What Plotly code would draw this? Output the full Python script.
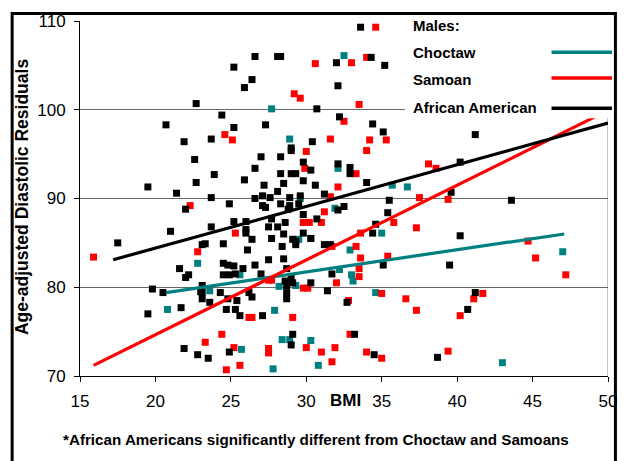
import plotly.graph_objects as go

# ---------------- data (BMI, age-adjusted diastolic residual) ----------------
aa_bmi = [33.6, 26.6, 28.1, 28.3, 25.2, 26.4, 25.9, 32.0, 34.3, 35.2, 32.1, 22.7, 30.7, 24.4, 32.2,
          20.7, 27.3, 34.4, 25.2, 35.1, 41.2, 21.9, 23.7, 30.4, 29.0, 29.0, 22.6, 27.0, 28.3, 29.8,
          32.1, 32.9, 26.6, 30.3, 40.2, 23.9, 28.3, 29.0, 29.3, 32.9, 22.7, 25.9, 29.8, 34.0, 19.5,
          27.2, 28.5, 30.6, 21.4, 28.1, 23.7, 26.6, 27.1, 27.6, 28.9, 29.6, 31.2, 35.5, 39.6, 43.6,
          24.9, 28.3, 28.9, 27.1, 27.3, 28.8, 22.0, 29.5, 29.8, 32.1, 32.5, 35.4, 25.2, 26.0, 27.7,
          28.6, 30.7, 34.6, 23.7, 21.0, 27.5, 28.1, 26.0, 26.0, 29.8, 28.5, 34.4, 40.2, 17.5, 23.1,
          23.3, 24.5, 26.4, 27.7, 29.1, 29.3, 30.3, 31.2, 31.6, 28.4, 26.1, 29.3, 24.5, 24.8, 25.2,
          25.3, 25.8, 26.6, 27.5, 28.5, 28.7, 21.6, 22.2, 22.0, 24.5, 24.9, 27.0, 31.7, 35.1, 39.5,
          28.6, 29.0, 29.1, 28.7, 30.3, 19.8, 20.5, 23.1, 23.0, 23.1, 24.3, 23.1, 23.6, 24.8, 25.4,
          26.2, 26.4, 28.7, 28.7, 31.4, 41.2, 32.7, 21.7, 19.5, 24.7, 25.3, 25.6, 27.1, 40.7, 29.1,
          29.0, 33.2, 21.9, 22.8, 23.5, 24.9, 34.5, 38.7]
aa_resid = [109.3, 106.0, 106.0, 106.0, 104.8, 103.4, 102.5, 105.3, 105.9, 105.0, 102.7, 100.7, 100.1, 99.4, 99.2,
            98.3, 98.3, 98.4, 98.0, 97.5, 97.2, 96.4, 96.7, 96.4, 95.7, 95.4, 94.4, 94.7, 94.7, 94.1,
            93.9, 93.5, 93.4, 93.2, 94.1, 92.7, 92.8, 92.8, 92.8, 92.8, 91.8, 92.1, 92.0, 91.8, 91.3,
            91.5, 91.7, 91.5, 90.6, 90.8, 90.1, 90.0, 90.3, 90.1, 90.1, 90.3, 90.5, 89.8, 90.7, 89.8,
            89.4, 89.4, 89.2, 89.2, 89.0, 88.8, 88.8, 89.4, 88.2, 88.7, 89.1, 88.4, 87.4, 87.4, 87.7,
            87.3, 87.7, 87.1, 86.8, 86.3, 86.8, 86.8, 86.5, 86.1, 86.1, 86.0, 86.1, 85.8, 85.0, 84.8,
            84.9, 84.9, 85.4, 85.5, 85.4, 84.8, 85.5, 84.8, 84.8, 84.6, 84.2, 85.2, 82.7, 82.5, 82.4,
            81.5, 82.1, 82.5, 83.1, 83.2, 82.1, 82.1, 81.4, 81.1, 81.4, 81.4, 81.5, 81.5, 82.5, 82.5,
            80.7, 81.0, 80.5, 80.2, 80.5, 79.8, 79.4, 80.2, 79.5, 79.4, 79.4, 78.7, 78.3, 78.7, 78.5,
            79.4, 78.9, 79.4, 78.7, 79.6, 79.4, 78.3, 77.7, 77.0, 77.5, 77.5, 76.8, 76.8, 77.5, 74.7,
            73.5, 74.7, 73.1, 72.4, 72.0, 72.7, 72.4, 72.1]

samoan_bmi = [34.6, 30.6, 33.0, 34.0, 29.2, 29.6, 33.5, 32.5, 24.6, 25.1, 31.6, 34.2, 35.3, 30.0, 34.0,
              29.9, 33.3, 32.1, 38.1, 38.6, 22.3, 31.6, 37.5, 39.4, 31.2, 29.8, 30.2, 31.0, 35.8, 37.3,
              25.3, 33.6, 31.7, 33.3, 15.9, 22.8, 33.6, 35.4, 44.7, 45.2, 47.2, 33.5, 33.5, 32.0, 27.5,
              27.7, 29.8, 30.1, 32.8, 35.0, 36.6, 37.3, 41.1, 41.7, 40.2, 26.2, 26.4, 29.1, 24.4, 23.3,
              25.2, 27.5, 27.5, 30.0, 31.0, 31.9, 32.9, 34.0, 35.0, 39.4, 25.6, 24.7, 31.7]
samoan_resid = [109.3, 105.2, 105.3, 105.9, 101.8, 101.3, 100.6, 98.7, 97.2, 96.6, 96.7, 96.6, 96.6, 95.3, 95.4,
                93.4, 92.8, 91.3, 93.9, 93.4, 89.2, 90.2, 90.1, 89.9, 88.5, 87.3, 87.3, 87.3, 87.3, 86.7,
                86.1, 86.1, 84.6, 84.6, 83.4, 84.0, 83.3, 83.5, 85.2, 83.3, 81.4, 82.1, 81.2, 80.5, 80.8,
                80.8, 79.9, 79.9, 78.5, 79.3, 78.7, 77.4, 78.7, 79.3, 76.8, 76.6, 76.6, 76.6, 74.7, 73.8,
                73.2, 73.1, 72.6, 73.2, 72.7, 73.2, 74.7, 72.7, 72.0, 72.8, 71.2, 70.7, 71.6]

choctaw_bmi = [32.5, 27.7, 28.9, 32.1, 29.6, 35.7, 36.7, 31.9, 35.0, 30.3, 29.5, 32.9, 22.8, 32.2, 33.0,
               33.1, 29.3, 28.2, 23.6, 20.8, 25.6, 27.9, 34.6, 28.4, 28.9, 30.3, 25.7, 27.8, 30.8, 43.0,
               47.0]
choctaw_resid = [106.1, 100.1, 96.7, 93.4, 90.0, 91.5, 91.3, 88.9, 86.1, 85.5, 85.4, 84.2, 82.7, 82.0, 81.4,
                 80.7, 80.2, 80.1, 79.6, 77.5, 81.4, 77.4, 79.4, 74.1, 74.1, 74.0, 73.0, 70.8, 71.2, 71.5,
                 84.0]

# fitted regression lines (end points)
choctaw_fit_bmi = [20.7, 47.1]
choctaw_fit_resid = [79.4, 86.0]
samoan_fit_bmi = [15.9, 49.5]
samoan_fit_resid = [71.2, 99.5]
aa_fit_bmi = [17.2, 50.0]
aa_fit_resid = [83.1, 98.5]

x_ticks = [15, 20, 25, 30, 35, 40, 45, 50]
y_ticks = [70, 80, 90, 100, 110]

legend_title = "Males:"
legend_names = ["Choctaw", "Samoan", "African American"]
legend_colors = ["#008080", "#FF0000", "#000000"]

TEAL, RED, BLACK = "#008080", "#FF0000", "#000000"
FONT = "Arial, 'Liberation Sans', sans-serif"

fig = go.Figure()

for xs, ys, col in [(choctaw_bmi, choctaw_resid, TEAL),
                    (samoan_bmi, samoan_resid, RED),
                    (aa_bmi, aa_resid, BLACK)]:
    fig.add_trace(go.Scatter(x=xs, y=ys, mode="markers",
                             marker=dict(symbol="square", size=7, color=col, line=dict(width=0)),
                             showlegend=False, hoverinfo="skip"))

for xs, ys, col in [(choctaw_fit_bmi, choctaw_fit_resid, TEAL),
                    (samoan_fit_bmi, samoan_fit_resid, RED),
                    (aa_fit_bmi, aa_fit_resid, BLACK)]:
    fig.add_trace(go.Scatter(x=xs, y=ys, mode="lines",
                             line=dict(color=col, width=3.2),
                             showlegend=False, hoverinfo="skip"))

W, H = 629, 461
ML, MR, MT, MB = 80, 16, 18, 85
PW, PH = W - ML - MR, H - MT - MB


def px(x):
    return (x - ML) / PW


def py(y):
    return (H - MB - y) / PH


shapes = []
# right plot border (gray)
shapes.append(dict(type="line", xref="x", yref="y", x0=50, x1=50, y0=70, y1=110,
                   line=dict(color="#888888", width=1), layer="below"))
# legend box (white, covers plot)
shapes.append(dict(type="rect", xref="paper", yref="paper",
                   x0=px(408), x1=px(619), y0=py(116), y1=py(11),
                   fillcolor="white", line=dict(width=0), layer="above"))
# outer frame
shapes.append(dict(type="rect", xref="paper", yref="paper",
                   x0=px(11.5), x1=px(620.5), y0=py(490), y1=py(10.5),
                   fillcolor="rgba(0,0,0,0)", line=dict(color="black", width=3), layer="above"))

annotations = []
legend_y = [49.5, 76.5, 105.5]
line_y = [49.5, 75.5, 106]
annotations.append(dict(text=legend_title, xref="paper", yref="paper", x=px(414), y=py(23),
                        xanchor="left", yanchor="middle", showarrow=False,
                        font=dict(family=FONT, size=15, color="black", weight="bold")))
for name, col, ty, ly in zip(legend_names, legend_colors, legend_y, line_y):
    annotations.append(dict(text=name, xref="paper", yref="paper", x=px(414), y=py(ty),
                            xanchor="left", yanchor="middle", showarrow=False,
                            font=dict(family=FONT, size=15, color="black", weight="bold")))
    shapes.append(dict(type="line", xref="paper", yref="paper", x0=px(556), x1=px(617),
                       y0=py(ly), y1=py(ly), line=dict(color=col, width=3.5), layer="above"))

annotations.append(dict(text="BMI", xref="x", yref="paper", x=32.6, y=py(401),
                        xanchor="center", yanchor="middle", showarrow=False,
                        font=dict(family=FONT, size=17, color="black", weight="bold")))
annotations.append(dict(text="Age-adjusted Diastolic Residuals", xref="paper", yref="paper",
                        x=px(21), y=py(196), textangle=-90, xanchor="center", yanchor="middle",
                        showarrow=False, font=dict(family=FONT, size=17.5, color="black", weight="bold")))
annotations.append(dict(text="*African Americans significantly different from Choctaw and Samoans",
                        xref="paper", yref="paper", x=px(318), y=py(440),
                        xanchor="center", yanchor="middle", showarrow=False,
                        font=dict(family=FONT, size=15.2, color="black", weight="bold")))

fig.update_layout(
    width=W, height=H,
    margin=dict(l=ML, r=MR, t=MT, b=MB, pad=0),
    paper_bgcolor="white", plot_bgcolor="white",
    shapes=shapes, annotations=annotations,
    xaxis=dict(range=[15, 50], tickvals=x_ticks, ticks="outside", ticklen=5, tickcolor="black",
               showline=True, linecolor="black", linewidth=1, showgrid=False, zeroline=False,
               tickfont=dict(family=FONT, size=17, color="black"), ticklabelstandoff=5),
    yaxis=dict(range=[70, 110], tickvals=y_ticks, ticks="outside", ticklen=5, tickcolor="black",
               showline=True, linecolor="black", linewidth=1, showgrid=True,
               gridcolor="#666666", gridwidth=1, zeroline=False,
               tickfont=dict(family=FONT, size=17, color="black"), ticklabelstandoff=5),
)

fig.write_html("out.html")
